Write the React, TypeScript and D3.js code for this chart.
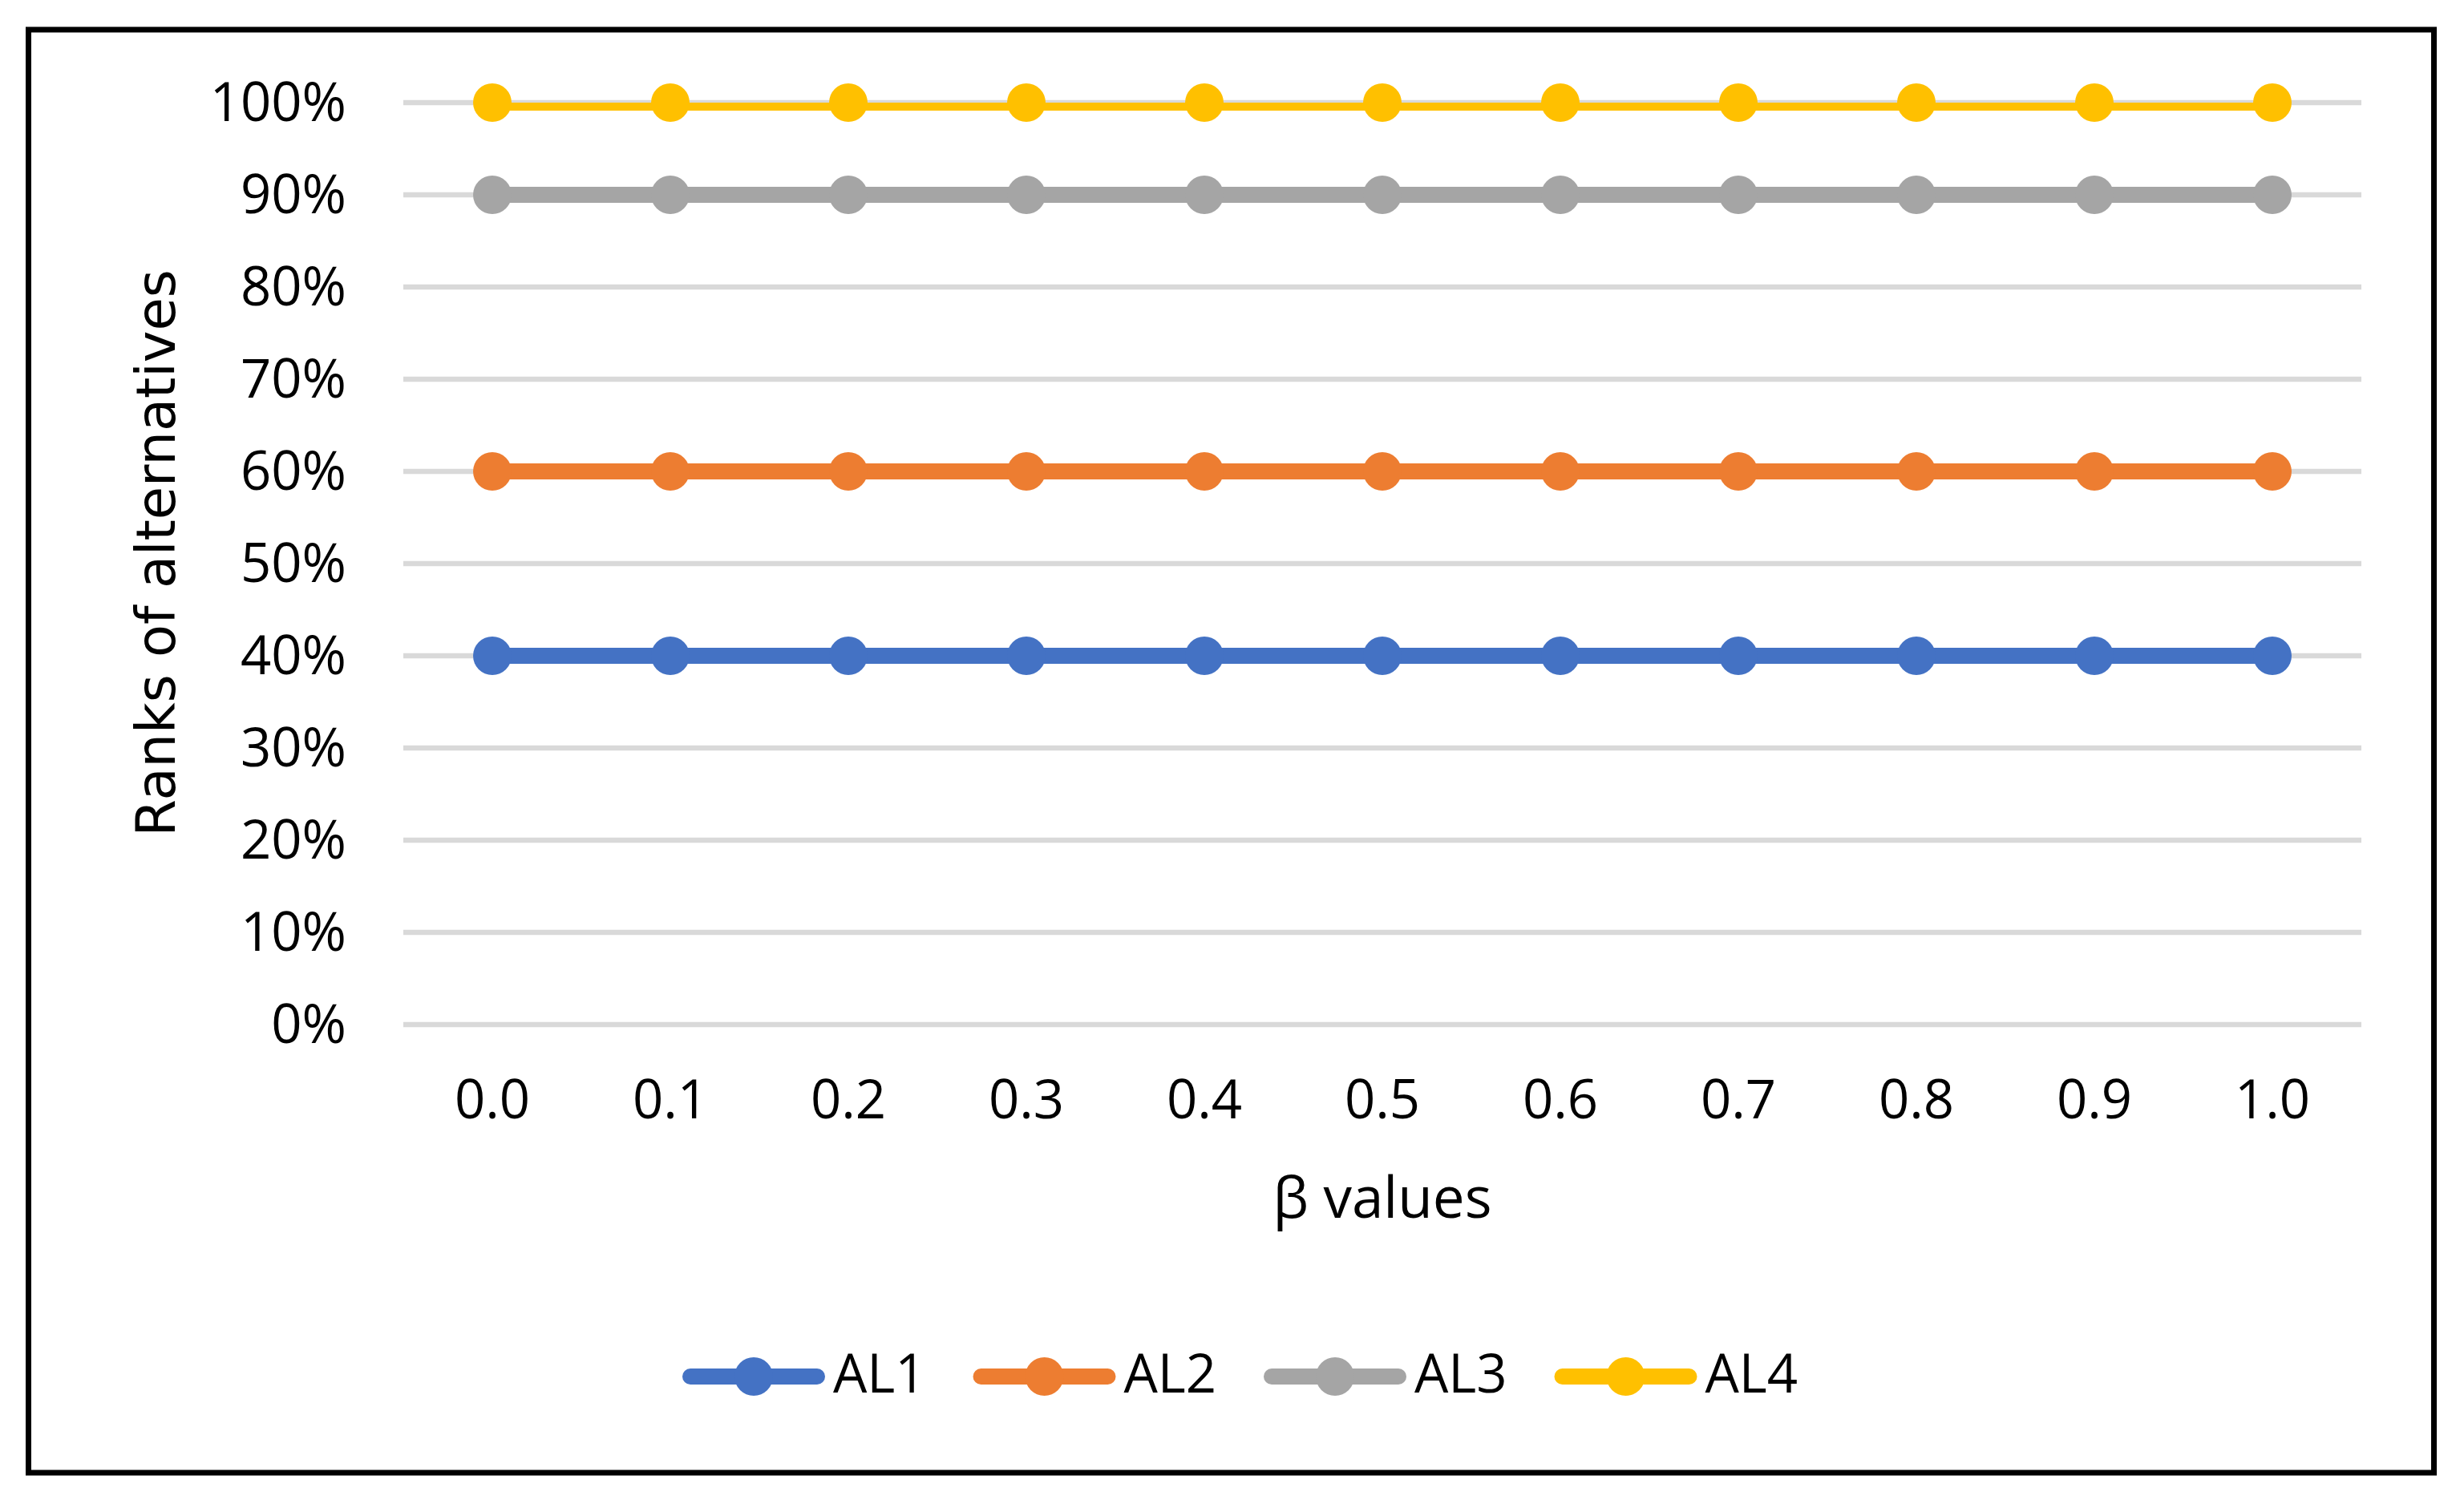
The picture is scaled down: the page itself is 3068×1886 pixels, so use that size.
import React from "react";
import * as d3 from "d3";

const categories = ["0.0", "0.1", "0.2", "0.3", "0.4", "0.5", "0.6", "0.7", "0.8", "0.9", "1.0"];
const seriesNames = ["AL1", "AL2", "AL3", "AL4"];
const AL1 = [0.4, 0.4, 0.4, 0.4, 0.4, 0.4, 0.4, 0.4, 0.4, 0.4, 0.4];
const AL2 = [0.6, 0.6, 0.6, 0.6, 0.6, 0.6, 0.6, 0.6, 0.6, 0.6, 0.6];
const AL3 = [0.9, 0.9, 0.9, 0.9, 0.9, 0.9, 0.9, 0.9, 0.9, 0.9, 0.9];
const AL4 = [1.0, 1.0, 1.0, 1.0, 1.0, 1.0, 1.0, 1.0, 1.0, 1.0, 1.0];
const yTicks = [0, 0.1, 0.2, 0.3, 0.4, 0.5, 0.6, 0.7, 0.8, 0.9, 1.0];
const colors = ["#4472C4", "#ED7D31", "#A5A5A5", "#FFC000"];
const xTitle = "β values";
const yTitle = "Ranks of alternatives";

const W = 3068;
const H = 1886;
const plot = { left: 503, right: 2945, top: 128, bottom: 1278 };
const tickFont = "'Open Sans', 'Noto Sans', sans-serif";

export default function App() {
  const x = d3.scalePoint<string>().domain(categories).range([plot.left, plot.right]).padding(0.5);
  const y = d3.scaleLinear().domain([0, 1]).range([plot.bottom, plot.top]);
  const fmt = d3.format(".0%");
  const allSeries = [AL1, AL2, AL3, AL4];
  const line = d3
    .line<number>()
    .x((_, i) => x(categories[i]) as number)
    .y((d) => y(d));

  const legendY = 1717;
  const legendStart = 940;
  const legendStep = 362.5;

  return (
    <svg
      width={W}
      height={H}
      viewBox={`0 0 ${W} ${H}`}
      style={{ position: "absolute", left: 0, top: 0, background: "#fff" }}
    >
      <rect x={0} y={0} width={W} height={H} fill="#fff" />
      <defs>
        <clipPath id="plotClip">
          <rect x={plot.left} y={plot.top} width={plot.right - plot.left} height={plot.bottom - plot.top} />
        </clipPath>
      </defs>
      {yTicks.map((t) => (
        <line key={"g" + t} x1={plot.left} x2={plot.right} y1={y(t)} y2={y(t)} stroke="#D9D9D9" strokeWidth={6.5} />
      ))}
      {yTicks.map((t) => (
        <text
          key={"yt" + t}
          x={432}
          y={y(t) + 23}
          textAnchor="end"
          fontFamily={tickFont}
          fontSize={67}
          fill="#000"
        >
          {fmt(t)}
        </text>
      ))}
      {categories.map((c) => (
        <text key={"xt" + c} x={x(c)} y={1395} textAnchor="middle" fontFamily={tickFont} fontSize={67} fill="#000">
          {c}
        </text>
      ))}
      <g clipPath="url(#plotClip)">
        {allSeries.map((s, i) => (
          <path key={"l" + i} d={line(s) || ""} fill="none" stroke={colors[i]} strokeWidth={20} />
        ))}
      </g>
      {allSeries.map((s, i) => (
        <g key={"m" + i}>
          {s.map((v, j) => (
            <circle key={j} cx={x(categories[j])} cy={y(v)} r={24} fill={colors[i]} />
          ))}
        </g>
      ))}
      <text x={(plot.left + plot.right) / 2} y={1519} textAnchor="middle" fontFamily={tickFont} fontSize={71} fill="#000">
        {xTitle}
      </text>
      <text
        transform={`translate(218, 690) rotate(-90)`}
        textAnchor="middle"
        fontFamily="'DejaVu Sans', Verdana, sans-serif"
        fontSize={67}
        fill="#000"
      >
        {yTitle}
      </text>
      {seriesNames.map((n, i) => {
        const cx = legendStart + i * legendStep;
        return (
          <g key={"lg" + n}>
            <line x1={cx - 79} x2={cx + 79} y1={legendY} y2={legendY} stroke={colors[i]} strokeWidth={20} strokeLinecap="round" />
            <circle cx={cx} cy={legendY} r={24} fill={colors[i]} />
            <text x={cx + 99} y={legendY + 20} fontFamily={tickFont} fontSize={67} fill="#000">
              {n}
            </text>
          </g>
        );
      })}
      <rect x={35.5} y={37} width={3000} height={1800} fill="none" stroke="#000" strokeWidth={7} />
    </svg>
  );
}
